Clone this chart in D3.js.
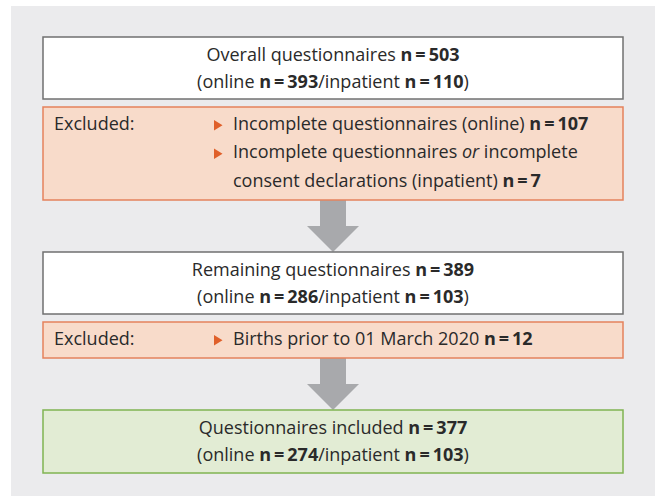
<!DOCTYPE html>
<html>
<head>
<meta charset="utf-8">
<script src="https://cdn.jsdelivr.net/npm/d3@7"></script>
<style>
  body { margin: 0; background: #fff; }
  text { font-family: "Open Sans", "Noto Sans", sans-serif; font-size: 18px; fill: #2a2a2a; }
</style>
</head>
<body>
<div class="chart"></div>
<script>
// Flow chart contents: ** marks bold, _ marks italic
var overallLines = ["Overall questionnaires **n = 503**", "(online **n = 393**/inpatient **n = 110**)"];
var excluded1Items = [
  ["Incomplete questionnaires (online) **n = 107**"],
  ["Incomplete questionnaires _or_ incomplete", "consent declarations (inpatient) **n = 7**"]
];
var remainingLines = ["Remaining questionnaires **n = 389**", "(online **n = 286**/inpatient **n = 103**)"];
var excluded2Items = [["Births prior to 01 March 2020 **n = 12**"]];
var includedLines = ["Questionnaires included **n = 377**", "(online **n = 274**/inpatient **n = 103**)"];

var svgWidth = 655;
var svgHeight = 496;

var svg = d3.select(".chart")
  .append("svg")
  .attr("width", svgWidth)
  .attr("height", svgHeight);

// grey panel
svg.append("rect")
  .attr("x", 11).attr("y", 6)
  .attr("width", svgWidth - 11).attr("height", svgHeight - 6)
  .attr("fill", "#ebebed");

var boxLeft = 43, boxRight = 623, midX = 333;

// split "abc **b** _i_" into segments
function segments(str) {
  var out = [];
  var re = /(\*\*[^*]+\*\*|_[^_]+_)/g;
  var last = 0, m;
  while ((m = re.exec(str)) !== null) {
    if (m.index > last) out.push({ t: str.slice(last, m.index), w: "normal", s: "normal" });
    if (m[0][0] === "*") out.push({ t: m[0].slice(2, -2), w: "bold", s: "normal" });
    else out.push({ t: m[0].slice(1, -1), w: "normal", s: "italic" });
    last = m.index + m[0].length;
  }
  if (last < str.length) out.push({ t: str.slice(last), w: "normal", s: "normal" });
  return out;
}

function writeLine(g, str, x, y, anchor) {
  var t = g.append("text")
    .attr("x", x).attr("y", y)
    .attr("text-anchor", anchor);
  t.selectAll("tspan")
    .data(segments(str))
    .enter().append("tspan")
    .attr("font-weight", function(d) { return d.w; })
    .attr("font-style", function(d) { return d.s; })
    .text(function(d) { return d.t.replace(/ = /g, "\u2009=\u2009"); });
}

function mainBox(lines, y0, y1, fill, stroke) {
  var g = svg.append("g");
  g.append("rect")
    .attr("x", boxLeft).attr("y", y0)
    .attr("width", boxRight - boxLeft).attr("height", y1 - y0)
    .attr("fill", fill).attr("stroke", stroke).attr("stroke-width", 1.5);
  lines.forEach(function(l, i) {
    writeLine(g, l, midX, y0 + 23.5 + i * 27, "middle");
  });
}

function excludedBox(items, y0, y1) {
  var g = svg.append("g");
  g.append("rect")
    .attr("x", boxLeft).attr("y", y0)
    .attr("width", boxRight - boxLeft).attr("height", y1 - y0)
    .attr("fill", "#f8dbca").attr("stroke", "#e5825c").attr("stroke-width", 1.5);
  var y = y0 + 22.5;
  writeLine(g, "Excluded:", 54, y, "start");
  items.forEach(function(item) {
    g.append("path")
      .attr("d", "M214," + (y - 9.5) + "L222.5," + (y - 4.3) + "L214," + (y + 1) + "Z")
      .attr("fill", "#e0602a");
    item.forEach(function(l) {
      writeLine(g, l, 233, y, "start");
      y += 28.5;
    });
  });
}

function arrow(y0, y1) {
  var headY = y1 - 26;
  svg.append("path")
    .attr("d", "M" + (midX - 13) + "," + y0 + "L" + (midX + 13) + "," + y0 +
      "L" + (midX + 13) + "," + headY + "L" + (midX + 26) + "," + headY +
      "L" + midX + "," + y1 + "L" + (midX - 26) + "," + headY +
      "L" + (midX - 13) + "," + headY + "Z")
    .attr("fill", "#a8a9ac");
}

arrow(200, 252);
arrow(358, 410);

mainBox(overallLines, 37, 99, "#ffffff", "#707070");
excludedBox(excluded1Items, 107, 200);
mainBox(remainingLines, 252, 314, "#ffffff", "#707070");
excludedBox(excluded2Items, 322, 358);
mainBox(includedLines, 410, 473, "#e2ecd4", "#80b452");
</script>
</body>
</html>
